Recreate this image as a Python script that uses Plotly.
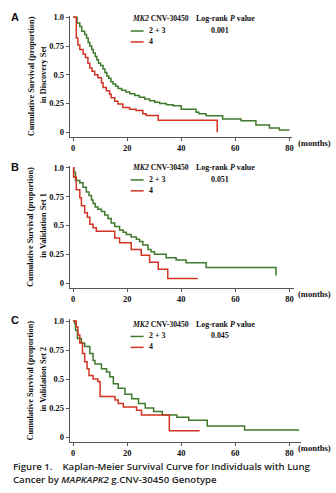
import plotly.graph_objects as go

W, H = 336, 493

# ---------------- data ----------------
a_green_t = [0, 1.5, 2.5, 3.2, 4.3, 5.0, 5.6, 6.2, 6.9, 7.5, 8.2, 8.8, 9.4, 10.2, 11.1, 11.8, 12.5, 13.2, 14.0, 14.8,
             15.8, 16.7, 18.0, 19.5, 21.0, 22.8, 24.5, 26.5, 28.3, 30.2, 32.0, 34.5, 37.0, 40.0, 45.5, 46.5, 49.2,
             55.3, 62.1, 67.6, 72.6, 76.3, 80.0]
a_green_s = [1.0, 0.95, 0.92, 0.88, 0.85, 0.82, 0.78, 0.75, 0.72, 0.69, 0.66, 0.63, 0.60, 0.58, 0.55, 0.52, 0.49, 0.47,
             0.44, 0.42, 0.40, 0.38, 0.365, 0.35, 0.335, 0.32, 0.305, 0.29, 0.275, 0.26, 0.25, 0.24, 0.23, 0.20, 0.173,
             0.16, 0.144, 0.115, 0.10, 0.063, 0.037, 0.02, 0.02]
a_red_t = [0, 1.2, 1.8, 2.5, 3.7, 4.6, 5.5, 6.2, 7.0, 8.0, 9.2, 10.5, 11.1, 12.3, 13.5, 14.1, 15.4, 16.6, 18.4, 20.9,
           23.3, 25.8, 27.0, 31.5, 53.3, 53.3]
a_red_s = [1.0, 0.82, 0.76, 0.72, 0.68, 0.65, 0.60, 0.56, 0.53, 0.50, 0.475, 0.43, 0.39, 0.36, 0.33, 0.30, 0.27, 0.245,
           0.216, 0.20, 0.19, 0.16, 0.145, 0.105, 0.105, 0.0]

b_green_t = [0, 0.3, 0.9, 2.5, 3.7, 4.9, 5.9, 6.8, 7.4, 8.2, 9.2, 10.5, 11.7, 12.9, 14.1, 15.4, 17.2, 18.5, 19.7, 21.5,
             23.4, 24.6, 25.8, 27.7, 28.8, 30.1, 34.4, 38.1, 41.8, 49.2, 75.0, 75.0]
b_green_s = [1.0, 0.96, 0.89, 0.87, 0.83, 0.79, 0.76, 0.72, 0.69, 0.66, 0.64, 0.62, 0.59, 0.56, 0.52, 0.49, 0.46, 0.44,
             0.42, 0.40, 0.38, 0.36, 0.33, 0.29, 0.27, 0.25, 0.22, 0.20, 0.175, 0.135, 0.135, 0.066]
b_red_t = [0, 0.2, 1.2, 2.5, 3.1, 4.3, 5.3, 6.2, 7.4, 8.6, 15.4, 17.2, 21.5, 25.2, 28.3, 31.5, 35.0, 46.1]
b_red_s = [1.0, 0.92, 0.81, 0.74, 0.67, 0.61, 0.57, 0.51, 0.48, 0.45, 0.39, 0.35, 0.29, 0.24, 0.18, 0.12, 0.04, 0.04]

c_green_t = [0, 0.6, 0.9, 1.6, 3.1, 4.3, 6.2, 7.4, 8.1, 10.5, 12.4, 13.6, 14.9, 16.7, 19.2, 21.7, 24.2, 26.7, 29.8,
             33.0, 38.4, 42.8, 49.6, 63.4, 83.6]
c_green_s = [1.0, 0.98, 0.92, 0.85, 0.81, 0.78, 0.72, 0.66, 0.63, 0.59, 0.56, 0.52, 0.46, 0.42, 0.37, 0.33, 0.29, 0.25,
             0.22, 0.19, 0.17, 0.145, 0.095, 0.06, 0.06]
c_red_t = [0, 1.2, 1.8, 2.5, 3.5, 4.3, 5.2, 5.9, 7.4, 9.2, 10.0, 15.5, 16.7, 18.6, 23.5, 25.3, 35.6, 46.8]
c_red_s = [1.0, 0.95, 0.88, 0.81, 0.72, 0.65, 0.59, 0.53, 0.50, 0.48, 0.35, 0.32, 0.29, 0.26, 0.23, 0.19, 0.055, 0.055]

panel_labels = ["A", "B", "C"]
set_names = ["in Discovery Set", "in Validation Set 1", "in Validation Set 2"]
p_values = ["0.001", "0.051", "0.045"]
group_names = ["2 + 3", "4"]
y_tickvals = [0, 0.25, 0.5, 0.75, 1.0]
y_ticktext = ["0", "0.25", "0.5", "0.75", "1.0"]
x_tickvals = [0, 20, 40, 60, 80]
x_ticktext = ["0", "20", "40", "60", "80"]

GREEN = "#3f7a2c"
RED = "#d23322"
SERIF = "Liberation Serif"
SANS = "Liberation Sans"

curves = [
    (a_green_t, a_green_s, a_red_t, a_red_s),
    (b_green_t, b_green_s, b_red_t, b_red_s),
    (c_green_t, c_green_s, c_red_t, c_red_s),
]

# panel geometry in pixels: (left, right, top, bottom), x-range right end
panels = [
    dict(l=70, r=293.3, t=12.7, b=135.0, xmax=81.1, leg_y=15.7),
    dict(l=70, r=295.0, t=164.0, b=286.7, xmax=81.7, leg_y=165.5),
    dict(l=70, r=301.7, t=318.3, b=441.7, xmax=84.2, leg_y=323.0),
]

def px(x):
    return x / W

def py(y):
    return 1 - y / H

fig = go.Figure()
annotations = []
shapes = []

for i, (gt, gs, rt, rs) in enumerate(curves):
    n = "" if i == 0 else str(i + 1)
    xa, ya = "x" + n, "y" + n
    fig.add_trace(go.Scatter(x=gt, y=gs, mode="lines", line=dict(color=GREEN, width=1.5, shape="hv"),
                             xaxis=xa, yaxis=ya, showlegend=False, name=group_names[0]))
    fig.add_trace(go.Scatter(x=rt, y=rs, mode="lines", line=dict(color=RED, width=1.5, shape="hv"),
                             xaxis=xa, yaxis=ya, showlegend=False, name=group_names[1]))
    p = panels[i]
    axis_common = dict(showgrid=False, zeroline=False, showline=True, linecolor="#555", linewidth=1,
                       ticks="outside", ticklen=3, tickcolor="#555",
                       tickfont=dict(family=SERIF, size=8.5, color="#111", weight="bold"))
    fig.layout["xaxis" + n] = dict(domain=[px(p["l"]), px(p["r"])], range=[-1.2, p["xmax"]],
                                   anchor=ya, tickvals=x_tickvals, ticktext=x_ticktext, **axis_common)
    fig.layout["yaxis" + n] = dict(domain=[py(p["b"]), py(p["t"])], range=[-0.043, 1.015],
                                   anchor=xa, tickvals=y_tickvals, ticktext=y_ticktext,
                                   ticklabelstandoff=0, **axis_common)

    mid = (p["t"] + p["b"]) / 2
    # y-axis title lines
    annotations.append(dict(x=px(31), y=py(mid), xref="paper", yref="paper", text="<b>Cumulative Survival (proportion)</b>",
                            textangle=-90, showarrow=False, xanchor="center", yanchor="middle",
                            font=dict(family=SERIF, size=8.3, color="#111")))
    annotations.append(dict(x=px(44), y=py(mid - 2), xref="paper", yref="paper", text="<b>" + set_names[i] + "</b>",
                            textangle=-90, showarrow=False, xanchor="center", yanchor="middle",
                            font=dict(family=SERIF, size=8.3, color="#111")))
    # panel label
    annotations.append(dict(x=px(15), y=py(p["t"] + 1), xref="paper", yref="paper", text="<b>" + panel_labels[i] + "</b>",
                            showarrow=False, xanchor="center", yanchor="middle",
                            font=dict(family=SANS, size=11, color="#111")))
    # (months)
    annotations.append(dict(x=px(297), y=py(p["b"] + 6), xref="paper", yref="paper", text="<b>(months)</b>",
                            showarrow=False, xanchor="left", yanchor="middle",
                            font=dict(family=SERIF, size=8.5, color="#111")))
    # legend block
    ly = p["leg_y"]
    annotations.append(dict(x=px(130), y=py(ly), xref="paper", yref="paper", text="<b><i>MK2</i> CNV-30450</b>",
                            showarrow=False, xanchor="left", yanchor="middle",
                            font=dict(family=SERIF, size=7.7, color="#111")))
    annotations.append(dict(x=px(195), y=py(ly), xref="paper", yref="paper", text="<b>Log-rank <i>P</i> value</b>",
                            showarrow=False, xanchor="left", yanchor="middle",
                            font=dict(family=SERIF, size=7.9, color="#111")))
    annotations.append(dict(x=px(147), y=py(ly + 12), xref="paper", yref="paper", text="<b>" + group_names[0] + "</b>",
                            showarrow=False, xanchor="left", yanchor="middle",
                            font=dict(family=SERIF, size=7.9, color="#111")))
    annotations.append(dict(x=px(147), y=py(ly + 23), xref="paper", yref="paper", text="<b>" + group_names[1] + "</b>",
                            showarrow=False, xanchor="left", yanchor="middle",
                            font=dict(family=SERIF, size=7.9, color="#111")))
    annotations.append(dict(x=px(221), y=py(ly + 12), xref="paper", yref="paper", text="<b>" + p_values[i] + "</b>",
                            showarrow=False, xanchor="center", yanchor="middle",
                            font=dict(family=SERIF, size=7.9, color="#111")))
    shapes.append(dict(type="line", xref="paper", yref="paper", x0=px(131), x1=px(144),
                       y0=py(ly + 12.5), y1=py(ly + 12.5), line=dict(color=GREEN, width=1.5)))
    shapes.append(dict(type="line", xref="paper", yref="paper", x0=px(131), x1=px(144),
                       y0=py(ly + 23.5), y1=py(ly + 23.5), line=dict(color=RED, width=1.5)))

# caption
annotations.append(dict(x=px(11), y=py(466), xref="paper", yref="paper",
                        text="Figure 1.    Kaplan-Meier Survival Curve for Individuals with Lung",
                        showarrow=False, xanchor="left", yanchor="middle",
                        font=dict(family="Open Sans", size=9.6, color="#222", weight=600)))
annotations.append(dict(x=px(11), y=py(479), xref="paper", yref="paper",
                        text="Cancer by <i>MAPKAPK2</i> g.CNV-30450 Genotype",
                        showarrow=False, xanchor="left", yanchor="middle",
                        font=dict(family="Open Sans", size=9.6, color="#222", weight=600)))

fig.update_layout(width=W, height=H, margin=dict(l=0, r=0, t=0, b=0), paper_bgcolor="white",
                  plot_bgcolor="white", annotations=annotations, shapes=shapes, showlegend=False)

fig.write_html("out.html")
